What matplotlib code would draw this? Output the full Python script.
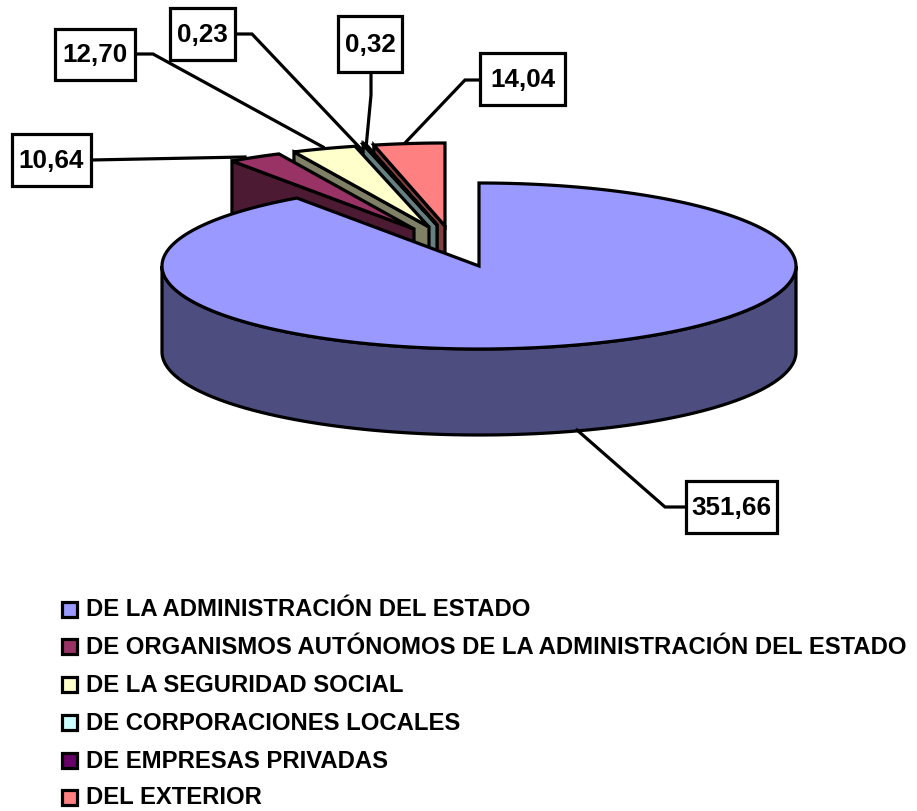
import numpy as np
import matplotlib
matplotlib.use("Agg")
import matplotlib.pyplot as plt
from matplotlib.patches import Polygon, Rectangle

# --- Data ---
categories = [
    "DE LA ADMINISTRACIÓN DEL ESTADO",
    "DE ORGANISMOS AUTÓNOMOS DE LA ADMINISTRACIÓN DEL ESTADO",
    "DE LA SEGURIDAD SOCIAL",
    "DE CORPORACIONES LOCALES",
    "DE EMPRESAS PRIVADAS",
    "DEL EXTERIOR",
]
values = [351.66, 10.64, 12.70, 0.23, 0.32, 14.04]

# --- Style ---
top_colors = ["#9999FF", "#993366", "#FFFFCC", "#CCFFFF", "#660066", "#FF8080"]
side_colors = ["#4D4D80", "#4D1A33", "#808066", "#668080", "#330033", "#804040"]

# pie geometry in pixels
rx, ry, depth = 317, 83, 86
tips = [(479, 266), (414, 229), (429, 227), (437, 225), (437, 225), (445, 226)]

# label boxes (left, top, right, bottom) and leader lines
boxes = [(686, 481, 777, 533), (12, 134, 91, 186), (55, 29, 135, 80),
         (170, 8, 235, 60), (338, 16, 402, 72), (480, 53, 565, 105)]
leaders = [
    [(577, 430), (665, 507), (686, 507)],
    [(91, 160), (245, 157)],
    [(135, 54), (153, 54), (323, 147)],
    [(235, 34), (252, 34), (362, 150)],
    [(371, 72), (371, 95), (366, 148)],
    [(480, 80), (465, 80), (405, 143)],
]
legend_y = [609, 646, 684, 722, 760, 797]
LW = 2.3


def arc(tip, a0, a1, n=120, drop=0):
    t = np.radians(np.linspace(a0, a1, n))
    return np.column_stack([tip[0] + rx * np.sin(t), tip[1] - ry * np.cos(t) + drop])


plt.rcParams["font.family"] = ["Liberation Sans", "DejaVu Sans"]
plt.rcParams["font.weight"] = "bold"

fig = plt.figure(figsize=(9.17, 8.11), dpi=100)
ax = fig.add_axes([0, 0, 1, 1])
ax.set_xlim(0, 917)
ax.set_ylim(811, 0)
ax.axis("off")

edges = np.cumsum([0] + values) / sum(values) * 360

# small slices back to front, the big one goes on top of them
z = 2
for i in [5, 4, 3, 2, 1]:
    tip, a0, a1 = tips[i], edges[i], edges[i + 1]
    corner = arc(tip, a0, a0, n=1)[0]
    wall = [tip, corner, (corner[0], corner[1] + depth), (tip[0], tip[1] + depth)]
    ax.add_patch(Polygon(wall, closed=True, fc=side_colors[i], ec="black", lw=LW, zorder=z))
    face = np.vstack([[tip], arc(tip, a0, a1)])
    ax.add_patch(Polygon(face, closed=True, fc=top_colors[i], ec="black", lw=LW,
                         joinstyle="miter", zorder=z + 0.5))
    z += 1

# main slice: rim then top face
tip = tips[0]
rim = np.vstack([arc(tip, 90, 270), arc(tip, 270, 90, drop=depth)])
ax.add_patch(Polygon(rim, closed=True, fc=side_colors[0], ec="black", lw=LW, zorder=z))
face = np.vstack([[tip], arc(tip, edges[0], edges[1], n=300)])
ax.add_patch(Polygon(face, closed=True, fc=top_colors[0], ec="black", lw=LW,
                     joinstyle="miter", zorder=z + 0.5))
z += 1

# value labels
for val, box, pts in zip(values, boxes, leaders):
    xs, ys = zip(*pts)
    ax.plot(xs, ys, color="black", lw=LW, zorder=z, solid_joinstyle="miter")
    l, t, r, b = box
    ax.add_patch(Rectangle((l, t), r - l, b - t, fc="white", ec="black", lw=LW, zorder=z + 1))
    ax.text((l + r) / 2, (t + b) / 2 + 1, f"{val:.2f}".replace(".", ","), ha="center", va="center",
            fontsize=18.7, fontweight="bold", color="black", zorder=z + 2)

# legend
for name, col, y in zip(categories, top_colors, legend_y):
    ax.add_patch(Rectangle((62, y - 7), 15, 15, fc=col, ec="black", lw=LW))
    ax.text(86, y + 1, name, ha="left", va="center", fontsize=17.2, fontweight="bold", color="black")

fig.savefig("out.png", dpi=100, facecolor="white")
plt.close(fig)
